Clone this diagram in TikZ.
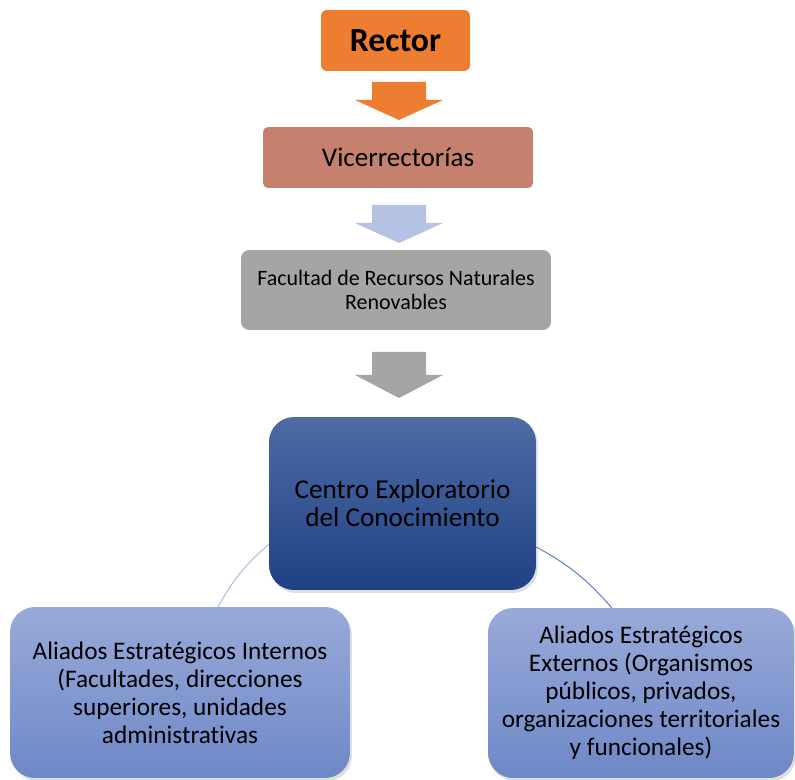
\documentclass[tikz,border=0pt]{standalone}
\usepackage{fontspec}
\setmainfont{Carlito}[Ligatures=NoCommon]
\usetikzlibrary{shadows}
\definecolor{rector orange}{HTML}{ED7D31}
\definecolor{vice brown}{HTML}{C5806E}
\definecolor{facu grey}{HTML}{A5A5A5}
\definecolor{arrow blue}{HTML}{B4C3E3}
\definecolor{centro top}{HTML}{4E6BA4}
\definecolor{centro bottom}{HTML}{1F4185}
\definecolor{aliado top}{HTML}{99AAD9}
\definecolor{aliado bottom}{HTML}{6E88C7}
\definecolor{link light}{HTML}{AFBDE0}
\definecolor{link dark}{HTML}{6384C2}

\begin{document}
\begin{tikzpicture}[x=0.02cm, y=-0.02cm]
            \tikzset{level/.style={fill=#1, inner sep=0pt, align=center, text=black}}
            \tikzset{blob/.style={top color=#1 top, bottom color=#1 bottom, rounded corners=0.5cm, inner sep=0pt, align=center, text=black, drop shadow={opacity=0.25, shadow xshift=0.04cm, shadow yshift=-0.06cm}}}
            \tikzset{blockarrow/.style={fill=#1}}
            \useasboundingbox (0, 0) rectangle (795, 780);

            \node[level=rector orange, rounded corners=0.12cm, minimum width=2.98cm, minimum height=1.22cm, font={\fontsize{19.2}{22}\selectfont\bfseries}] (rector) at (395.5, 40.5) {Rector};
            \node[level=vice brown, rounded corners=0.1cm, minimum width=5.4cm, minimum height=1.22cm, font={\fontsize{15.4}{18}\selectfont}] (vice) at (398, 157.5) {Vicerrectorías};
            \node[level=facu grey, rounded corners=0.16cm, minimum width=6.2cm, minimum height=1.6cm, font={\fontsize{12.5}{13.8}\selectfont}] (facu) at (396, 290) {Facultad de Recursos Naturales\\Renovables};

            \fill[blockarrow=rector orange] (372, 82) -- (426, 82) -- (426, 100) -- (443, 100) -- (399, 120) -- (355, 100) -- (372, 100) -- cycle;
            \fill[blockarrow=arrow blue] (372, 205) -- (426, 205) -- (426, 223) -- (443, 223) -- (399, 243) -- (355, 223) -- (372, 223) -- cycle;
            \fill[blockarrow=facu grey] (372, 352) -- (426, 352) -- (426, 375) -- (443, 375) -- (399, 398) -- (355, 375) -- (372, 375) -- cycle;

            \node[blob=centro, minimum width=5.34cm, minimum height=3.46cm, font={\fontsize{15.5}{16}\selectfont}] (centro) at (402.5, 503.5) {Centro Exploratorio\\del Conocimiento};
            \node[blob=aliado, minimum width=6.8cm, minimum height=3.42cm, font={\fontsize{14.4}{15.9}\selectfont}] (internos) at (180, 692.5) {Aliados Estratégicos Internos\\(Facultades, direcciones\\superiores, unidades\\administrativas};
            \node[blob=aliado, minimum width=6.12cm, minimum height=3.4cm, font={\fontsize{14.4}{15.9}\selectfont}] (externos) at (641, 693) {Aliados Estratégicos\\Externos (Organismos\\públicos, privados,\\organizaciones territoriales\\y funcionales)};

            \draw[link light, semithick] (internos.66) to[bend left=10] (centro.197);
            \draw[link dark, semithick] (centro.342) to[bend left=10] (externos.109);
        \end{tikzpicture}
\end{document}
